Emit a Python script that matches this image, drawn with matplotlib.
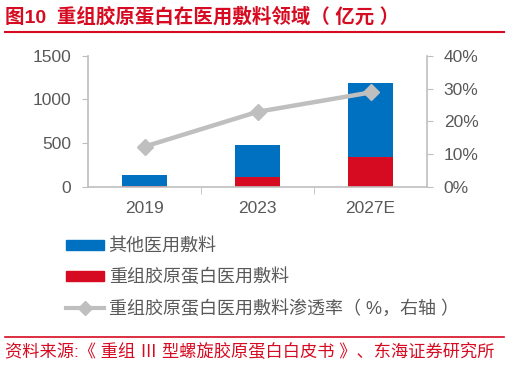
import numpy as np
import matplotlib.pyplot as plt
from matplotlib.lines import Line2D
from matplotlib.patches import Patch

plt.rcParams['font.family'] = ['Liberation Sans', 'Noto Sans CJK SC', 'DejaVu Sans']

years = ['2019', '2023', '2027E']
recomb = [10, 110, 340]          # 重组胶原蛋白医用敷料
others = [130, 365, 850]         # 其他医用敷料
penetration = [12.3, 22.9, 28.8]  # 渗透率 %

blue = '#0070c0'
red = '#d60b21'
grey_line = '#bfbfbf'
txt = '#595959'
axis_c = '#bfbfbf'

fig = plt.figure(figsize=(5.09, 3.66), dpi=100)
ax = fig.add_axes([88 / 509, 1 - 187 / 366, (427 - 88) / 509, (187 - 55.7) / 366])
x = np.arange(len(years))
ax.bar(x, recomb, width=0.4, color=red, zorder=2)
ax.bar(x, others, width=0.4, bottom=recomb, color=blue, zorder=2)
ax.set_xlim(-0.5, 2.5)
ax.set_ylim(0, 1500)
ax.set_yticks([0, 500, 1000, 1500])
ax.set_xticks(x)
ax.set_xticklabels(years)
ax.set_xticks([0.5, 1.5], minor=True)
ax.tick_params(axis='x', which='major', length=0, pad=10)
ax.tick_params(axis='x', which='minor', length=5, color=axis_c)
ax.tick_params(axis='y', length=4, color=axis_c, pad=8)
ax.tick_params(labelsize=12.5, labelcolor=txt)
for s in ['top', 'right']:
    ax.spines[s].set_visible(False)
for s in ['left', 'bottom']:
    ax.spines[s].set_color(axis_c)
    ax.spines[s].set_linewidth(1.2)

ax2 = ax.twinx()
ax2.plot(x, penetration, color=grey_line, lw=3.2, marker='D', ms=8, zorder=3)
ax2.set_ylim(0, 40)
ax2.set_yticks([0, 10, 20, 30, 40])
ax2.set_yticklabels(['0%', '10%', '20%', '30%', '40%'])
ax2.tick_params(axis='y', length=4, color=axis_c, labelsize=12.5, labelcolor=txt, pad=8)
for s in ['top', 'left', 'bottom']:
    ax2.spines[s].set_visible(False)
ax2.spines['right'].set_color(axis_c)
ax2.spines['right'].set_linewidth(1.2)

handles = [Patch(color=blue), Patch(color=red),
           Line2D([], [], color=grey_line, lw=3, marker='D', ms=7)]
labels = ['其他医用敷料', '重组胶原蛋白医用敷料', '重组胶原蛋白医用敷料渗透率（ %，右轴 ）']
fig.legend(handles, labels, loc='upper left', bbox_to_anchor=(59 / 509, 1 - 231 / 366),
           frameon=False, fontsize=13, labelcolor=txt, handlelength=2.1, handleheight=0.45,
           labelspacing=0.75, handletextpad=0.25, borderaxespad=0)

fig.text(5 / 509, 1 - 17 / 366, '图10  重组胶原蛋白在医用敷料领域（ 亿元 ）', color=red,
         fontsize=14, fontweight='bold', va='center', ha='left')
fig.add_artist(Line2D([5 / 509, 504 / 509], [1 - 32 / 366] * 2, color=red, lw=1.5))
fig.add_artist(Line2D([5 / 509, 504 / 509], [1 - 337 / 366] * 2, color=red, lw=1.2))
fig.text(5 / 509, 1 - 352 / 366, '资料来源:《 重组 Ⅲ 型螺旋胶原蛋白白皮书 》、东海证券研究所',
         color=red, fontsize=12.4, va='center', ha='left')

fig.savefig('out.png', dpi=100)
